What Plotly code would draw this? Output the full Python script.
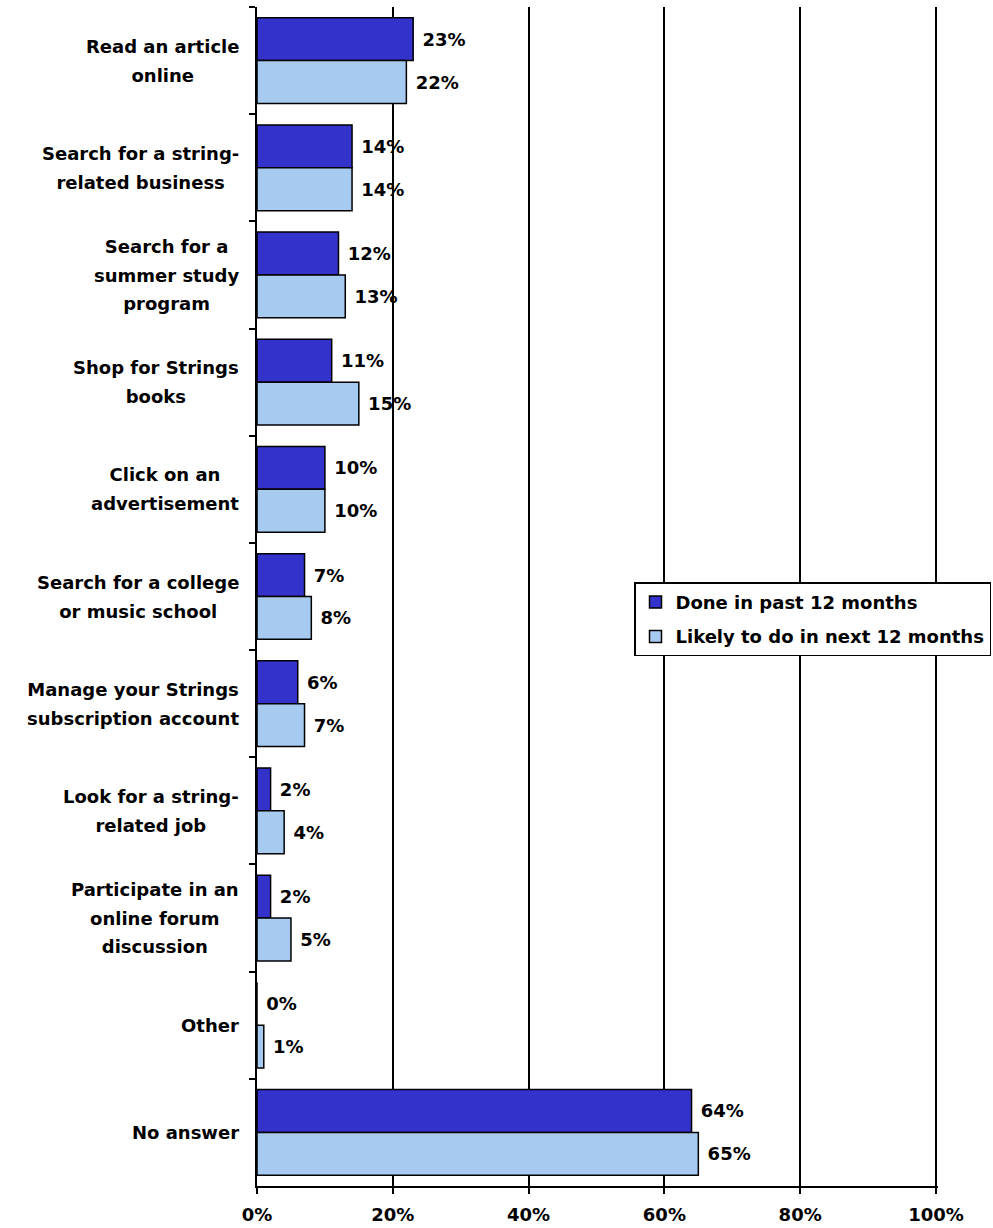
import plotly.graph_objects as go

# Online activities, share of respondents (%)
categories = [
    "Read an article online",
    "Search for a string-related business",
    "Search for a summer study program",
    "Shop for Strings books",
    "Click on an advertisement",
    "Search for a college or music school",
    "Manage your Strings subscription account",
    "Look for a string-related job",
    "Participate in an online forum discussion",
    "Other",
    "No answer",
]
category_labels = [
    ["Read an article", "online"],
    ["Search for a string-", "related business"],
    ["Search for a", "summer study", "program"],
    ["Shop for Strings", "books"],
    ["Click on an", "advertisement"],
    ["Search for a college", "or music school"],
    ["Manage your Strings", "subscription account"],
    ["Look for a string-", "related job"],
    ["Participate in an", "online forum", "discussion"],
    ["Other"],
    ["No answer"],
]
done_past_12 = [23, 14, 12, 11, 10, 7, 6, 2, 2, 0, 64]
likely_next_12 = [22, 14, 13, 15, 10, 8, 7, 4, 5, 1, 65]

x_ticks = [0, 20, 40, 60, 80, 100]
x_tick_labels = ["0%", "20%", "40%", "60%", "80%", "100%"]

FONT = "DejaVu Sans"
FS = 18

fig = go.Figure()
series = [
    ("Done in past 12 months", done_past_12, "#3333CC"),
    ("Likely to do in next 12 months", likely_next_12, "#A6CAF0"),
]
for i, (name, vals, color) in enumerate(series):
    fig.add_trace(go.Bar(
        name=name,
        y=categories,
        x=vals,
        orientation="h",
        marker=dict(color=color, line=dict(color="black", width=1.5)),
        text=[f"\u00a0{v}%" for v in vals],
        textposition="outside",
        textfont=dict(family=FONT, size=FS, color="black", weight="bold"),
        constraintext="none",
        cliponaxis=False,
        legendgroup=f"g{i}",
    ))

# Category labels, centred line by line
for cat, lines in zip(categories, category_labels):
    txt = "<br>".join(f'<span style="font-size:{FS}px">{ln}</span>' for ln in lines)
    fig.add_annotation(
        xref="paper", yref="y", x=0, y=cat,
        xanchor="right", yanchor="middle", xshift=-16,
        text=txt, showarrow=False, align="center",
        font=dict(family=FONT, size=22, color="black", weight="bold"),
    )

fig.update_layout(
    width=993, height=1228,
    margin=dict(l=257, r=55, t=7, b=42, autoexpand=False),
    paper_bgcolor="white", plot_bgcolor="white",
    barmode="group", bargap=0.2, bargroupgap=0,
    showlegend=True,
    legend=dict(
        x=0.5536, y=0.512, xanchor="left", yanchor="top",
        bgcolor="white", bordercolor="black", borderwidth=1.5,
        font=dict(family=FONT, size=FS, color="black", weight="bold"),
        traceorder="grouped", tracegroupgap=8,
    ),
    xaxis=dict(
        range=[0, 100.3], tickvals=x_ticks, ticktext=x_tick_labels,
        showgrid=True, gridcolor="black", gridwidth=1.5, zeroline=False,
        showline=True, linecolor="black", linewidth=1.5,
        ticks="outside", ticklen=6, tickwidth=1.5, tickcolor="black",
        ticklabelstandoff=6, automargin=False,
        tickfont=dict(family=FONT, size=FS, color="black", weight="bold"),
        fixedrange=True,
    ),
    yaxis=dict(
        type="category", categoryorder="array", categoryarray=categories,
        autorange="reversed", showticklabels=False, showgrid=False,
        showline=True, linecolor="black", linewidth=1.5,
        ticks="outside", tickson="boundaries", ticklen=6, tickwidth=1.5,
        tickcolor="black", fixedrange=True, automargin=False,
    ),
)

fig.write_html("out.html")
